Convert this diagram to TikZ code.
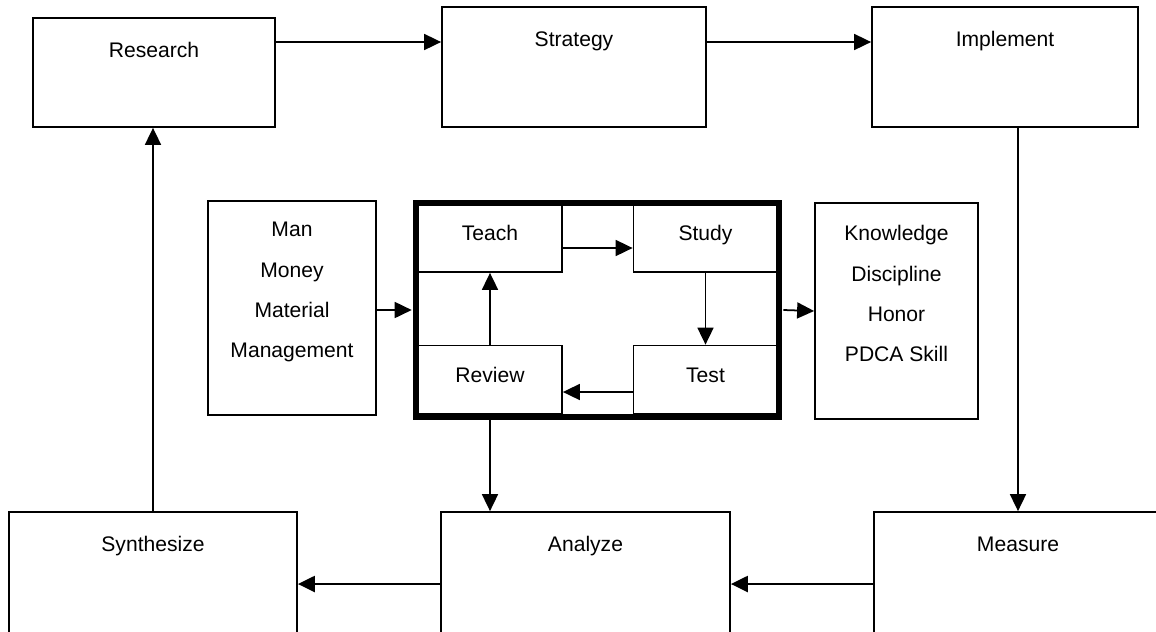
\documentclass[tikz,border=0pt]{standalone}
\usepackage{fontspec}
\setmainfont{Liberation Sans}
\usetikzlibrary{arrows.meta}

\begin{document}
\begin{tikzpicture}[x=0.2mm,y=-0.2mm,>={Triangle[length=0.34cm,width=0.32cm]},
    font=\fontsize{12}{14.4}\selectfont,
    stage/.style={draw,line width=1pt,inner sep=0pt},
    stagetext/.style={anchor=base,yshift=-0.8cm},
    cell/.style={draw,line width=1pt,inner sep=0pt,text height=9pt,text depth=6pt,
        minimum width=2.88cm,minimum height=1.36cm},
    listtext/.style={align=center,font=\fontsize{12}{22.8}\selectfont},
    flow/.style={line width=1pt,->}]
    \useasboundingbox (0,0) rectangle (1156,631);
    \clip (0,0) rectangle (1156,631);

    % top row
    \node[stage,minimum width=4.84cm,minimum height=2.18cm,label={[stagetext]north:Research}] (research) at (154,72.5) {};
    \node[stage,minimum width=5.28cm,minimum height=2.4cm,label={[stagetext]north:Strategy}] (strategy) at (574,67) {};
    \node[stage,minimum width=5.32cm,minimum height=2.4cm,label={[stagetext]north:Implement}] (implement) at (1005,67) {};
    \coordinate (toprow) at (0,42);

    % bottom row
    \node[stage,minimum width=5.76cm,minimum height=2.88cm,label={[stagetext]north:Synthesize}] (synthesize) at (153,584) {};
    \node[stage,minimum width=5.78cm,minimum height=2.88cm,label={[stagetext]north:Analyze}] (analyze) at (585.5,584) {};
    \node[stage,minimum width=5.76cm,minimum height=2.88cm,label={[stagetext]north:Measure}] (measure) at (1018,584) {};

    % middle
    \node[stage,minimum width=3.36cm,minimum height=4.28cm] (resources) at (292,308) {};
    \node[listtext] (resources-text) at ([yshift=0.32cm]resources.center) {Man\\Money\\Material\\Management};
    \node[stage,minimum width=3.26cm,minimum height=4.32cm] (outcomes) at (896.5,311) {};
    \node[listtext] (outcomes-text) at ([yshift=0.35cm]outcomes.center) {Knowledge\\Discipline\\Honor\\PDCA Skill};

    \node[draw,line width=3.2pt,minimum width=7.26cm,minimum height=4.28cm] (cycle) at (597.5,310) {};
    \node[cell] (teach) at (490,238) {Teach};
    \node[cell] (study) at (705.5,238) {Study};
    \node[cell] (review) at (490,379.5) {Review};
    \node[cell] (test) at (705.5,379.5) {Test};

    % connectors
    \draw[flow] (research.east |- toprow) -- (strategy.west |- toprow);
    \draw[flow] (strategy.east |- toprow) -- (implement.west |- toprow);
    \draw[flow] (measure.north |- implement.south) -- (measure.north);
    \draw[flow,line width=1.3pt] (measure.west) -- (analyze.east);
    \draw[flow,line width=1.3pt] (analyze.west) -- (synthesize.east);
    \draw[flow] (synthesize.north) -- (synthesize.north |- research.south);
    \draw[flow] (review.south) -- (review.south |- analyze.north);
    \draw[flow] (resources.east |- cycle.west) -- ([xshift=-0.03cm]cycle.west);
    \draw[flow] ([xshift=0.03cm]cycle.east) -- (outcomes.west);
    \draw[flow] ([yshift=-0.2cm]teach.east) -- ([yshift=-0.2cm]study.west);
    \draw[flow] (study.south) -- (test.north);
    \draw[flow] ([yshift=-0.25cm]test.west) -- ([yshift=-0.25cm]review.east);
    \draw[flow] (review.north) -- (teach.south);
\end{tikzpicture}
\end{document}
